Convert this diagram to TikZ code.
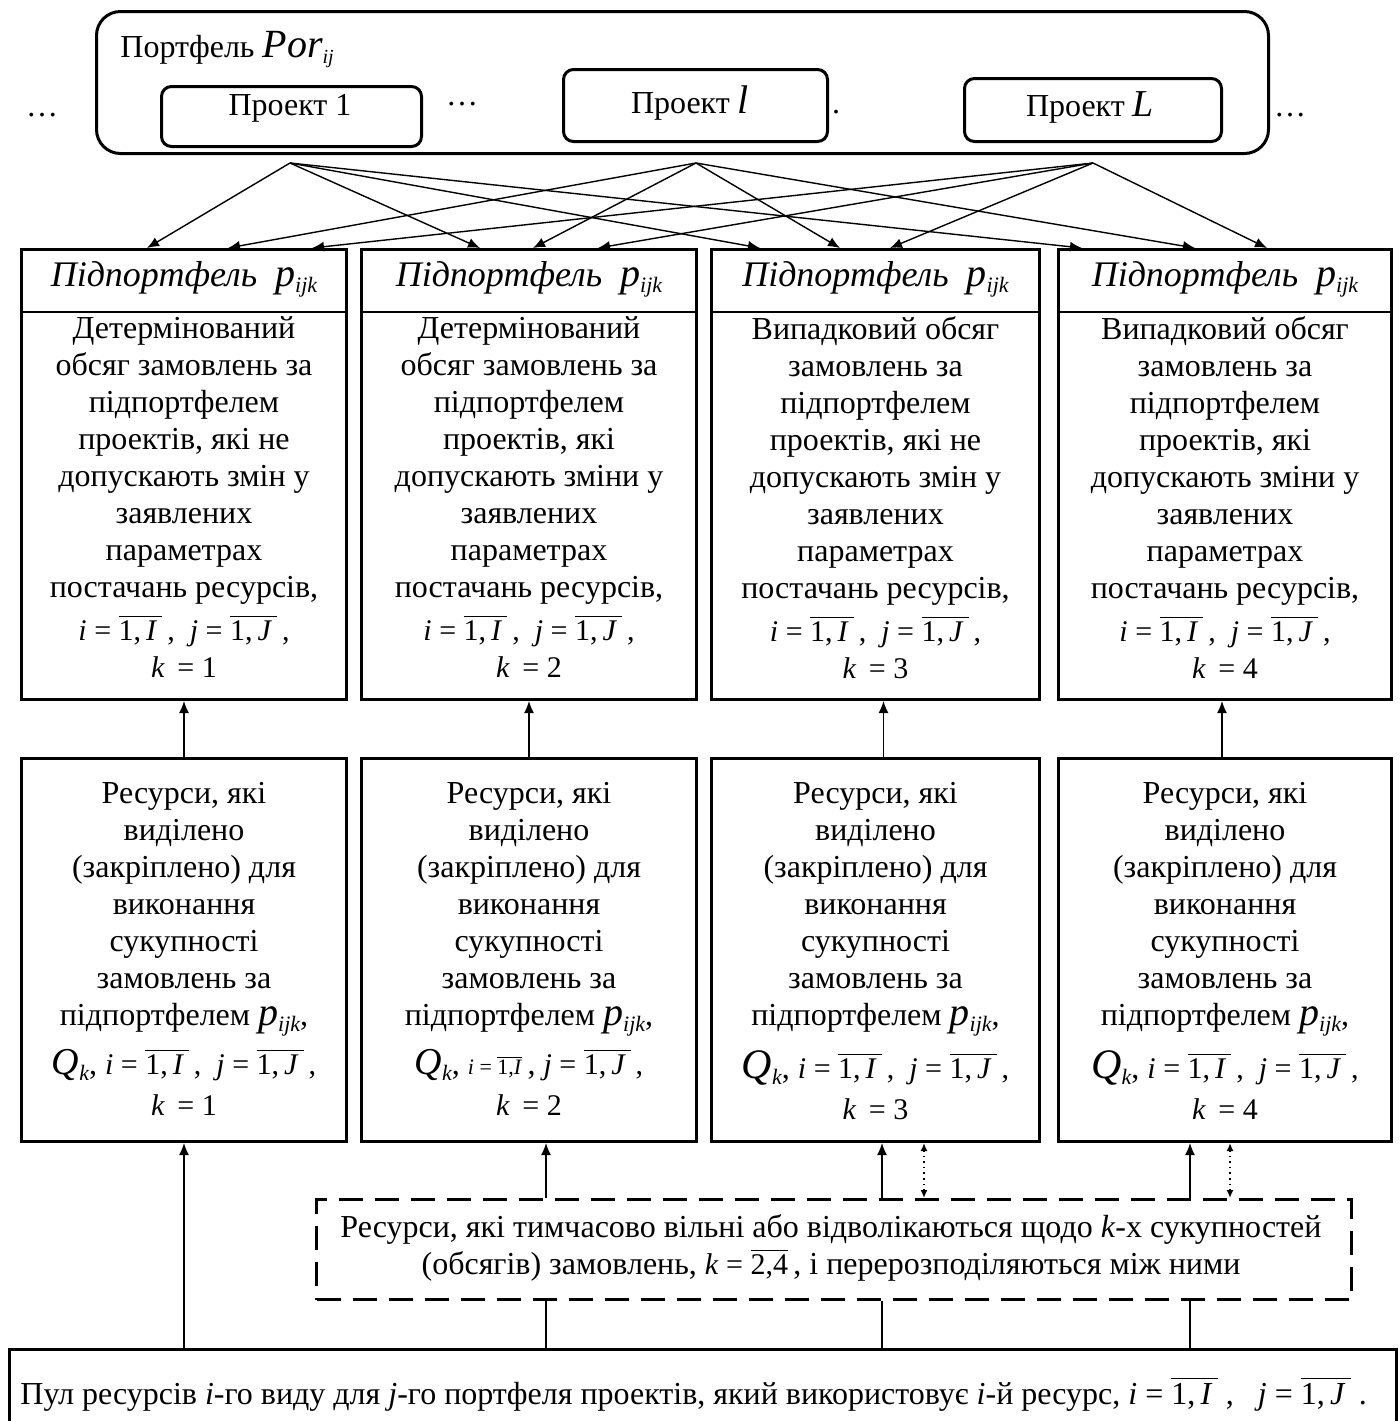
\documentclass[tikz,border=0pt]{standalone}
\usepackage{amsmath}
\usepackage{fontspec}
\setmainfont{Liberation Serif}
\usetikzlibrary{arrows.meta,calc}
\newcommand{\mi}[1]{\textit{#1}}
\newcommand{\ovr}[1]{$\overline{\text{#1}}$}
\newcommand{\sbs}[2][10]{\raisebox{-3pt}{\fontsize{#1}{#1}\selectfont\itshape #2}}
\newcommand{\fs}[1]{\fontsize{#1}{#1}\selectfont}
\newcommand{\pijk}{{\fs{20}\mi{p}}\sbs[11]{ijk}}
\newcommand{\ijline}{{\fs{15}\mi{i} = \ovr{1,\,\mi{I}\,}\,,\ \ \mi{j} = \ovr{1,\,\mi{J}\,}\,,}}
\newcommand{\kline}[1]{{\fs{15}\mi{k}\, = #1}}
\begin{document}
\begin{tikzpicture}[x=0.5pt,y=-0.5pt,
  font=\fontsize{16}{18.5}\selectfont,
  bx/.style={draw, line width=1.5pt, inner sep=0pt, anchor=north west},
  rbx/.style={bx, rounded corners=5pt},
  arr/.style={-{Latex[length=6pt,width=5pt]}, line width=0.7pt},
  dotarr/.style={{Latex[length=4pt,width=3.5pt]}-{Latex[length=4pt,width=3.5pt]}, dotted, line width=0.8pt},
  body/.style={align=center, anchor=north, inner sep=0pt},
  hdr/.style={inner sep=0pt, font=\fontsize{18}{20}\selectfont}]
\useasboundingbox (0,0) rectangle (1400,1421);

% portfolio
\node[bx, rounded corners=12pt, minimum width=586pt, minimum height=71pt] (port) at (95,10) {};
\node[anchor=west, inner sep=0pt] (portt) at (120,50) {Портфель {\fs{20}\mi{Por}}\sbs{ij}};
\node[rbx, minimum width=130pt, minimum height=30pt] (pr1) at (160,85) {};
\node[inner sep=0pt] (pr1t) at (290,108) {Проект 1};
\node[rbx, minimum width=132pt, minimum height=36pt] (prl) at (562,68) {};
\node[inner sep=0pt] (prlt) at (690,103) {Проект {\fs{20}\mi{l}}};
\node[rbx, minimum width=128.5pt, minimum height=31.5pt] (prL) at (963,77) {};
\node[inner sep=0pt] (prLt) at (1090,107) {Проект {\fs{19}\mi{L}}};
\node[inner sep=0pt] (dl) at (42,115) {…};
\node[inner sep=0pt] (dm) at (462,104) {…};
\node[inner sep=0pt] (dr) at (1290,115) {…};
\node[inner sep=0pt] (dot) at (836,112) {.};

\coordinate (s1) at (290,163);
\coordinate (s2) at (696,163);
\coordinate (s3) at (1093,163);

% row 1
\node[bx, minimum width=162.5pt, minimum height=225pt] (p1) at (20,248) {};
\node[bx, minimum width=167.5pt, minimum height=225pt] (p2) at (360,248) {};
\node[bx, minimum width=164pt, minimum height=225pt] (p3) at (710,248) {};
\node[bx, minimum width=166.5pt, minimum height=225pt] (p4) at (1057,248) {};
\foreach \b in {p1,p2,p3,p4}{
  \draw[line width=0.75pt] ($(\b.north west)+(0,64)$) -- ($(\b.north east)+(0,64)$);
  \node[hdr] (\b h) at ($(\b.north)+(0,31)$) {\mi{Підпортфель}\ \ \pijk};
}
\node[body] (p1b) at ($(p1.north)+(0,68)$) {Детермінований\\ обсяг замовлень за\\ підпортфелем\\ проектів, які не\\ допускають змін у\\ заявлених\\ параметрах\\ постачань ресурсів,\\[3pt] \ijline\\ \kline{1}};
\node[body] (p2b) at ($(p2.north)+(0,68)$) {Детермінований\\ обсяг замовлень за\\ підпортфелем\\ проектів, які\\ допускають зміни у\\ заявлених\\ параметрах\\ постачань ресурсів,\\[3pt] \ijline\\ \kline{2}};
\node[body] (p3b) at ($(p3.north)+(0,68)$) {Випадковий обсяг\\ замовлень за\\ підпортфелем\\ проектів, які не\\ допускають змін у\\ заявлених\\ параметрах\\ постачань ресурсів,\\[3pt] \ijline\\ \kline{3}};
\node[body] (p4b) at ($(p4.north)+(0,68)$) {Випадковий обсяг\\ замовлень за\\ підпортфелем\\ проектів, які\\ допускають зміни у\\ заявлених\\ параметрах\\ постачань ресурсів,\\[3pt] \ijline\\ \kline{4}};

% row 2
\node[bx, minimum width=162.5pt, minimum height=191.5pt] (q1) at (20,757) {};
\node[bx, minimum width=167.5pt, minimum height=191.5pt] (q2) at (360,757) {};
\node[bx, minimum width=164pt, minimum height=191.5pt] (q3) at (710,757) {};
\node[bx, minimum width=166.5pt, minimum height=191.5pt] (q4) at (1057,757) {};
\node[body] (q1b) at ($(q1.north)+(0,25)$) {Ресурси, які\\ виділено\\ (закріплено) для\\ виконання\\ сукупності\\ замовлень за\\ підпортфелем \pijk,\\[6pt] {\fs{19}\mi{Q}}\sbs[11]{k}, \ijline\\[2pt] \kline{1}};
\node[body] (q2b) at ($(q2.north)+(0,25)$) {Ресурси, які\\ виділено\\ (закріплено) для\\ виконання\\ сукупності\\ замовлень за\\ підпортфелем \pijk,\\[6pt] {\fs{19}\mi{Q}}\sbs[11]{k}, {\fs{11}\mi{i} = \ovr{1,\mi{I}}}\,, {\fs{15}\mi{j} = \ovr{1,\,\mi{J}\,}\,,}\\[2pt] \kline{2}};
\node[body] (q3b) at ($(q3.north)+(0,25)$) {Ресурси, які\\ виділено\\ (закріплено) для\\ виконання\\ сукупності\\ замовлень за\\ підпортфелем \pijk,\\[6pt] {\fs{21}\mi{Q}}\sbs[11]{k}, \ijline\\[2pt] \kline{3}};
\node[body] (q4b) at ($(q4.north)+(0,25)$) {Ресурси, які\\ виділено\\ (закріплено) для\\ виконання\\ сукупності\\ замовлень за\\ підпортфелем \pijk,\\[6pt] {\fs{21}\mi{Q}}\sbs[11]{k}, \ijline\\[2pt] \kline{4}};

% dashed and pool
\node[bx, dash pattern=on 12pt off 6pt, minimum width=517.5pt, minimum height=50pt] (dsh) at (315,1198) {};
\node[align=center, inner sep=0pt] (dsht) at (831,1248) {Ресурси, які тимчасово вільні або відволікаються щодо \mi{k}-х сукупностей\\ (обсягів) замовлень, {\fs{15}\mi{k}\ = \ovr{2,4}}\,, і перерозподіляються між ними};
\node[bx, minimum width=693.5pt, minimum height=50pt] (pool) at (8,1348) {};
\node[anchor=west, inner sep=0pt] (poolt) at (20,1394) {Пул ресурсів \mi{i}-го виду для \mi{j}-го портфеля проектів, який використовує \mi{i}-й ресурс, {\fs{16}\mi{i}\ = \ovr{1,\,\mi{I}\,}\ ,\ \ \ \mi{j}\ = \ovr{1,\,\mi{J}\,}\ .}};

% top arrows
\foreach \s/\b/\x in {s1/p1/147, s1/p2/480, s1/p3/760, s1/p4/1082,
                      s2/p1/228, s2/p2/533, s2/p3/840, s2/p4/1195,
                      s3/p1/312, s3/p2/598, s3/p3/890, s3/p4/1267}
  \draw[arr] (\s) -- (\b.north -| \x,0);

% row2 -> row1
\draw[arr] (q1.north) -- (p1.south);
\draw[arr] (q2.north) -- (p2.south);
\draw[arr] ($(q3.north)+(8,0)$) -- ($(p3.south)+(8,0)$);
\draw[arr] ($(q4.north)+(-3,0)$) -- ($(p4.south)+(-3,0)$);

% bottom connectors
\coordinate (xa) at (546,0);
\coordinate (xb) at (882,0);
\coordinate (xc) at (1190,0);
\coordinate (xd) at (924,0);
\coordinate (xe) at (1230,0);
\draw[arr] (pool.north -| q1.south) -- (q1.south);
\draw[line width=0.7pt] (pool.north -| xa) -- (dsh.south -| xa);
\draw[line width=0.7pt] (pool.north -| xb) -- (dsh.south -| xb);
\draw[line width=0.7pt] (pool.north -| xc) -- (dsh.south -| xc);
\draw[arr] (dsh.north -| xa) -- (q2.south -| xa);
\draw[arr] (dsh.north -| xb) -- (q3.south -| xb);
\draw[arr] (dsh.north -| xc) -- (q4.south -| xc);
\draw[dotarr] (dsh.north -| xd) -- (q3.south -| xd);
\draw[dotarr] (dsh.north -| xe) -- (q4.south -| xe);
\end{tikzpicture}
\end{document}
